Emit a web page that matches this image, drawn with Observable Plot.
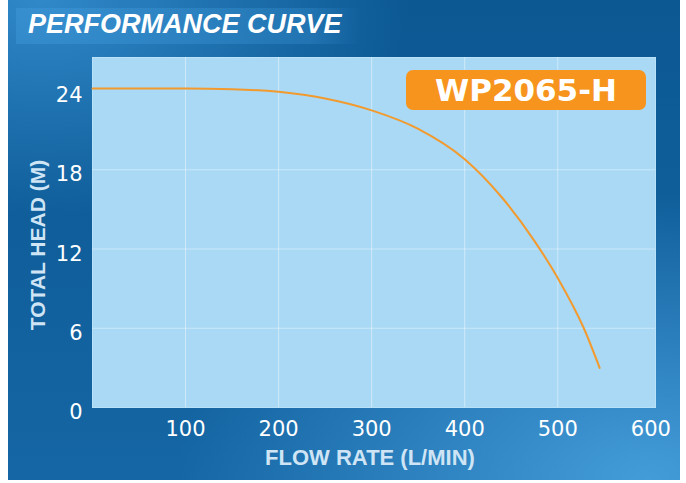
<!DOCTYPE html>
<html>
<head>
<meta charset="utf-8">
<script src="https://cdn.jsdelivr.net/npm/d3@7"></script>
<script src="https://cdn.jsdelivr.net/npm/@observablehq/plot@0.6"></script>
<style>
  html, body { margin: 0; padding: 0; background: #ffffff; }
  #wrap {
    position: absolute; left: 8px; top: 0; width: 672px; height: 480px; overflow: hidden;
    background:
      radial-gradient(ellipse 70% 60% at 95% 100%, rgba(75,165,225,0.85), rgba(75,165,225,0) 100%),
      radial-gradient(ellipse 55% 45% at 5% 0%, rgba(55,145,210,0.85), rgba(55,145,210,0) 100%),
      linear-gradient(to bottom, #0b5893, #1566a4);
  }
  #band {
    position: absolute; left: 8px; top: 8px; width: 345px; height: 36px;
    background: linear-gradient(to right, rgba(70,160,225,0.35), rgba(70,160,225,0.25) 85%, rgba(70,160,225,0));
  }
  #title {
    position: absolute; left: 20px; top: 9px;
    font-family: "Liberation Sans", Arial, sans-serif; font-weight: bold; font-style: italic;
    font-size: 27px; color: #ffffff; white-space: nowrap;
  }
  #chart { position: absolute; left: 0; top: 0; }
  #badge {
    position: absolute; left: 398px; top: 70px; width: 240px; height: 40px;
    background: #f7941d; border-radius: 7px;
    font-family: "DejaVu Sans", sans-serif; font-weight: bold; font-size: 31px; color: #ffffff;
    text-align: center; line-height: 40px;
  }
  #ylab {
    position: absolute; left: 30px; top: 245px; transform: translate(-50%, -50%) rotate(-90deg);
    font-family: "Liberation Sans", Arial, sans-serif; font-weight: bold; font-size: 21px; color: #cfe5f5;
    white-space: nowrap;
  }
  #xlab {
    position: absolute; left: 362px; top: 458px; transform: translate(-50%, -50%);
    font-family: "Liberation Sans", Arial, sans-serif; font-weight: bold; font-size: 22px; color: #cfe5f5;
    white-space: nowrap;
  }
</style>
</head>
<body>
<div id="wrap">
  <div id="band"></div>
  <div id="title">PERFORMANCE CURVE</div>
  <div id="chart"></div>
  <div id="badge">WP2065-H</div>
  <div id="ylab">TOTAL HEAD (M)</div>
  <div id="xlab">FLOW RATE (L/MIN)</div>
</div>
<script>
const flowRate = [0, 100, 150, 200, 250, 300, 350, 400, 440, 475, 500, 528, 545];
const totalHead = [24.15, 24.15, 24.1, 23.9, 23.4, 22.5, 21.1, 18.8, 15.9, 12.6, 9.8, 6.0, 3.0];
const xTicks = [100, 200, 300, 400, 500, 600];
const yTicks = [0, 6, 12, 18, 24];
const xGrid = [100, 200, 300, 400, 500];
const yGrid = [6, 12, 18];

const data = flowRate.map((f, i) => ({flow: f, head: totalHead[i]}));

const chart = Plot.plot({
  width: 672,
  height: 480,
  marginLeft: 84,
  marginRight: 25,
  marginTop: 57,
  marginBottom: 73,
  style: {background: "transparent", fontFamily: "'DejaVu Sans', sans-serif"},
  x: {domain: [0, 605]},
  y: {domain: [0, 26.5]},
  marks: [
    Plot.frame({fill: "#a9d9f5", stroke: "#b9e2f8", strokeWidth: 1}),
    Plot.gridX(xGrid, {stroke: "#ffffff", strokeOpacity: 0.45, strokeWidth: 1}),
    Plot.gridY(yGrid, {stroke: "#ffffff", strokeOpacity: 0.4, strokeWidth: 1}),
    Plot.axisX(xTicks, {tickSize: 0, tickPadding: 14, fontSize: 21, fill: "#ffffff", label: null}),
    Plot.axisY(yTicks, {tickSize: 0, tickPadding: 10, fontSize: 21, fill: "#ffffff", label: null, dy: 5}),
    Plot.line(data, {x: "flow", y: "head", stroke: "#f29a2e", strokeWidth: 2, curve: "monotone-x"})
  ]
});
document.getElementById("chart").appendChild(chart);
</script>
</body>
</html>
